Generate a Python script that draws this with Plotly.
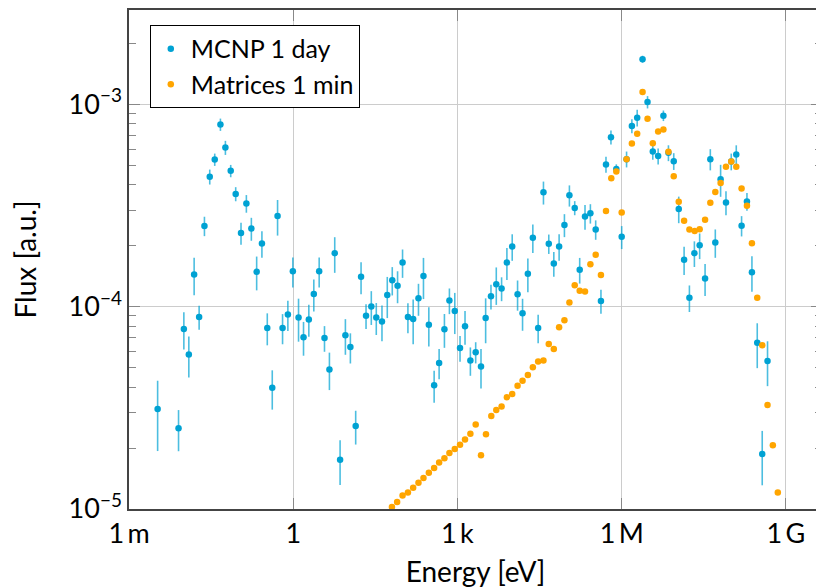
import numpy as np
import plotly.graph_objects as go

# ---- MCNP 1 day (log10 of energy in eV, log10 of flux, relative error) ----
mcnp_log_energy = [
    -2.477, -2.095, -1.998, -1.907, -1.810, -1.719, -1.622, -1.525, -1.434, -1.330,
    -1.239, -1.142, -1.051, -0.954, -0.856, -0.765, -0.668, -0.572, -0.474, -0.383,
    -0.286, -0.195, -0.098, -0.007, 0.097, 0.188, 0.285, 0.376, 0.474, 0.571,
    0.661, 0.758, 0.856, 0.953, 1.044, 1.141, 1.239, 1.330, 1.426, 1.517,
    1.621, 1.718, 1.809, 1.906, 1.997, 2.095, 2.191, 2.288, 2.379, 2.477,
    2.574, 2.665, 2.762, 2.853, 2.951, 3.047, 3.138, 3.236, 3.333, 3.430,
    3.515, 3.612, 3.709, 3.806, 3.903, 4.000, 4.098, 4.189, 4.286, 4.377,
    4.474, 4.571, 4.668, 4.760, 4.857, 4.954, 5.045, 5.142, 5.233, 5.330,
    5.428, 5.525, 5.621, 5.713, 5.804, 5.902, 6.000, 6.089, 6.186, 6.283,
    6.381, 6.472, 6.568, 6.666, 6.762, 6.854, 6.951, 7.042, 7.140, 7.237,
    7.328, 7.424, 7.523, 7.619, 7.710, 7.807, 7.905, 8.001, 8.093, 8.190,
    8.288, 8.379, 8.476, 8.567, 8.664,
]
mcnp_log_flux = [
    -4.506, -4.601, -4.110, -4.237, -3.841, -4.051, -3.601, -3.358, -3.273, -3.100,
    -3.214, -3.329, -3.443, -3.636, -3.490, -3.614, -3.828, -3.688, -4.105, -4.401,
    -3.552, -4.105, -4.039, -3.825, -4.054, -4.151, -4.063, -3.938, -3.825, -4.155,
    -4.310, -3.736, -4.757, -4.141, -4.200, -4.590, -3.852, -4.045, -3.999, -4.054,
    -4.074, -3.943, -3.869, -3.897, -3.782, -4.051, -4.061, -3.959, -3.849, -4.089,
    -4.389, -4.278, -4.112, -3.969, -4.022, -4.204, -4.097, -4.266, -4.225, -4.296,
    -4.056, -3.949, -3.889, -3.910, -3.782, -3.703, -3.939, -4.033, -3.837, -3.659,
    -4.105, -3.435, -3.689, -3.787, -3.703, -3.596, -3.450, -3.512, -3.818, -3.554,
    -3.539, -3.619, -3.972, -3.297, -3.163, -3.320, -3.655, -3.271, -3.107, -3.066,
    -2.777, -2.989, -3.233, -3.256, -3.056, -3.240, -3.281, -3.517, -3.768, -3.956,
    -3.736, -3.697, -3.861, -3.271, -3.683, -3.371, -3.485, -3.283, -3.248, -3.600,
    -3.480, -3.830, -4.179, -4.728, -4.268,
]
mcnp_rel_error = [
    0.38, 0.23, 0.21, 0.23, 0.21, 0.135, 0.11, 0.085, 0.07, 0.07,
    0.08, 0.07, 0.08, 0.125, 0.10, 0.13, 0.19, 0.15, 0.18, 0.22,
    0.20, 0.17, 0.17, 0.17, 0.24, 0.19, 0.18, 0.18, 0.17, 0.145,
    0.21, 0.20, 0.25, 0.20, 0.17, 0.19, 0.18, 0.14, 0.19, 0.18,
    0.20, 0.23, 0.16, 0.18, 0.16, 0.17, 0.25, 0.18, 0.23, 0.22,
    0.18, 0.17, 0.19, 0.145, 0.23, 0.145, 0.19, 0.16, 0.12, 0.22,
    0.25, 0.14, 0.21, 0.135, 0.18, 0.15, 0.17, 0.18, 0.19, 0.16,
    0.16, 0.13, 0.11, 0.14, 0.15, 0.13, 0.12, 0.08, 0.145, 0.14,
    0.11, 0.11, 0.135, 0.09, 0.08, 0.055, 0.13, 0.09, 0.08, 0.095,
    0.04, 0.07, 0.09, 0.09, 0.06, 0.09, 0.095, 0.15, 0.16, 0.15,
    0.145, 0.145, 0.18, 0.12, 0.16, 0.18, 0.135, 0.095, 0.11, 0.115,
    0.10, 0.20, 0.25, 0.30, 0.25,
]

# ---- Matrices 1 min ----
matrices_log_energy = [
    1.803, 1.898, 1.997, 2.095, 2.191, 2.288, 2.379, 2.477, 2.574, 2.665,
    2.762, 2.853, 2.951, 3.047, 3.138, 3.236, 3.333, 3.430, 3.521, 3.618,
    3.709, 3.806, 3.903, 4.000, 4.098, 4.189, 4.286, 4.377, 4.474, 4.571,
    4.668, 4.760, 4.857, 4.954, 5.045, 5.142, 5.233, 5.330, 5.428, 5.525,
    5.621, 5.713, 5.810, 5.902, 6.000, 6.089, 6.186, 6.283, 6.381, 6.472,
    6.568, 6.666, 6.762, 6.854, 6.951, 7.042, 7.140, 7.237, 7.333, 7.424,
    7.523, 7.619, 7.710, 7.807, 7.905, 8.001, 8.093, 8.190, 8.288, 8.379,
    8.476, 8.567, 8.664, 8.761, 8.852,
]
matrices_log_flux = [
    -4.990, -4.966, -4.933, -4.918, -4.895, -4.870, -4.847, -4.821, -4.798, -4.770,
    -4.749, -4.723, -4.704, -4.683, -4.657, -4.628, -4.583, -4.734, -4.631, -4.540,
    -4.511, -4.493, -4.448, -4.432, -4.391, -4.366, -4.338, -4.299, -4.271, -4.266,
    -4.184, -4.209, -4.102, -4.067, -3.980, -3.894, -3.921, -3.925, -3.790, -3.744,
    -3.844, -3.527, -3.365, -3.332, -3.535, -3.271, -3.194, -3.145, -2.939, -3.071,
    -3.192, -3.135, -3.125, -3.235, -3.355, -3.481, -3.576, -3.619, -3.626, -3.618,
    -3.570, -3.486, -3.434, -3.389, -3.309, -3.283, -3.309, -3.416, -3.501, -3.687,
    -3.956, -4.191, -4.486, -4.685, -4.918,
]

# ---- axis ticks ----
x_tick_vals = [1e-3, 1, 1e3, 1e6, 1e9]
x_tick_text = ["1\u2009m", "1", "1\u2009k", "1\u2009M", "1\u2009G"]
y_tick_vals = [1e-5, 1e-4, 1e-3]
y_tick_text = ["10<sup>\u22125</sup>", "10<sup>\u22124</sup>", "10<sup>\u22123</sup>"]
y_minor_vals = [m * d for d in (1e-5, 1e-4, 1e-3) for m in range(2, 10)]

mcnp_energy = np.power(10.0, mcnp_log_energy)
mcnp_flux = np.power(10.0, mcnp_log_flux)
mcnp_err = mcnp_flux * np.array(mcnp_rel_error)
matrices_energy = np.power(10.0, matrices_log_energy)
matrices_flux = np.power(10.0, matrices_log_flux)

BLUE = "#00A2D3"
ORANGE = "#FFA500"
FONT = "Lato"

fig = go.Figure()
fig.add_trace(go.Scatter(
    x=mcnp_energy, y=mcnp_flux, mode="markers", name="MCNP 1 day",
    marker=dict(color=BLUE, size=6.5),
    error_y=dict(type="data", array=mcnp_err, symmetric=True,
                 color="rgba(0,162,211,0.7)", thickness=1.6, width=0),
))
fig.add_trace(go.Scatter(
    x=matrices_energy, y=matrices_flux, mode="markers", name="Matrices 1 min",
    marker=dict(color=ORANGE, size=6.5),
))

axis_line = "#444444"
grid = "#cccccc"
# the page body adds an 8px offset, so the figure is 8px smaller on each axis
fig.update_layout(
    width=816, height=580,
    margin=dict(l=121, r=0, t=1, b=79),
    paper_bgcolor="white", plot_bgcolor="white",
    font=dict(family=FONT, size=27, color="black"),
    showlegend=True,
    legend=dict(
        x=0.03, y=0.97, xanchor="left", yanchor="top",
        bgcolor="white", bordercolor="black", borderwidth=1,
        font=dict(family=FONT, size=25), itemwidth=30,
        tracegroupgap=0,
    ),
    xaxis=dict(
        type="log", range=[-3, 9.659],
        tickvals=x_tick_vals, ticktext=x_tick_text,
        ticks="inside", ticklen=11, tickcolor="#888888", tickwidth=1.2,
        showline=True, linecolor=axis_line, linewidth=1.5, mirror="ticks",
        showgrid=True, gridcolor=grid, gridwidth=1,
        zeroline=False,
        title=dict(text="Energy [eV]", font=dict(size=28), standoff=14),
        tickfont=dict(size=27),
    ),
    yaxis=dict(
        type="log", range=[-5, -2.534],
        tickvals=y_tick_vals, ticktext=y_tick_text,
        ticks="inside", ticklen=11, tickcolor="#888888", tickwidth=1.2,
        showline=True, linecolor=axis_line, linewidth=1.5, mirror="ticks",
        showgrid=True, gridcolor=grid, gridwidth=1,
        zeroline=False,
        minor=dict(tickvals=y_minor_vals, ticks="inside", ticklen=7,
                   tickcolor="#888888", tickwidth=1.2, showgrid=False),
        title=dict(text="Flux [a.u.]", font=dict(size=28), standoff=28),
        tickfont=dict(size=27),
    ),
)

fig.write_html("out.html")
